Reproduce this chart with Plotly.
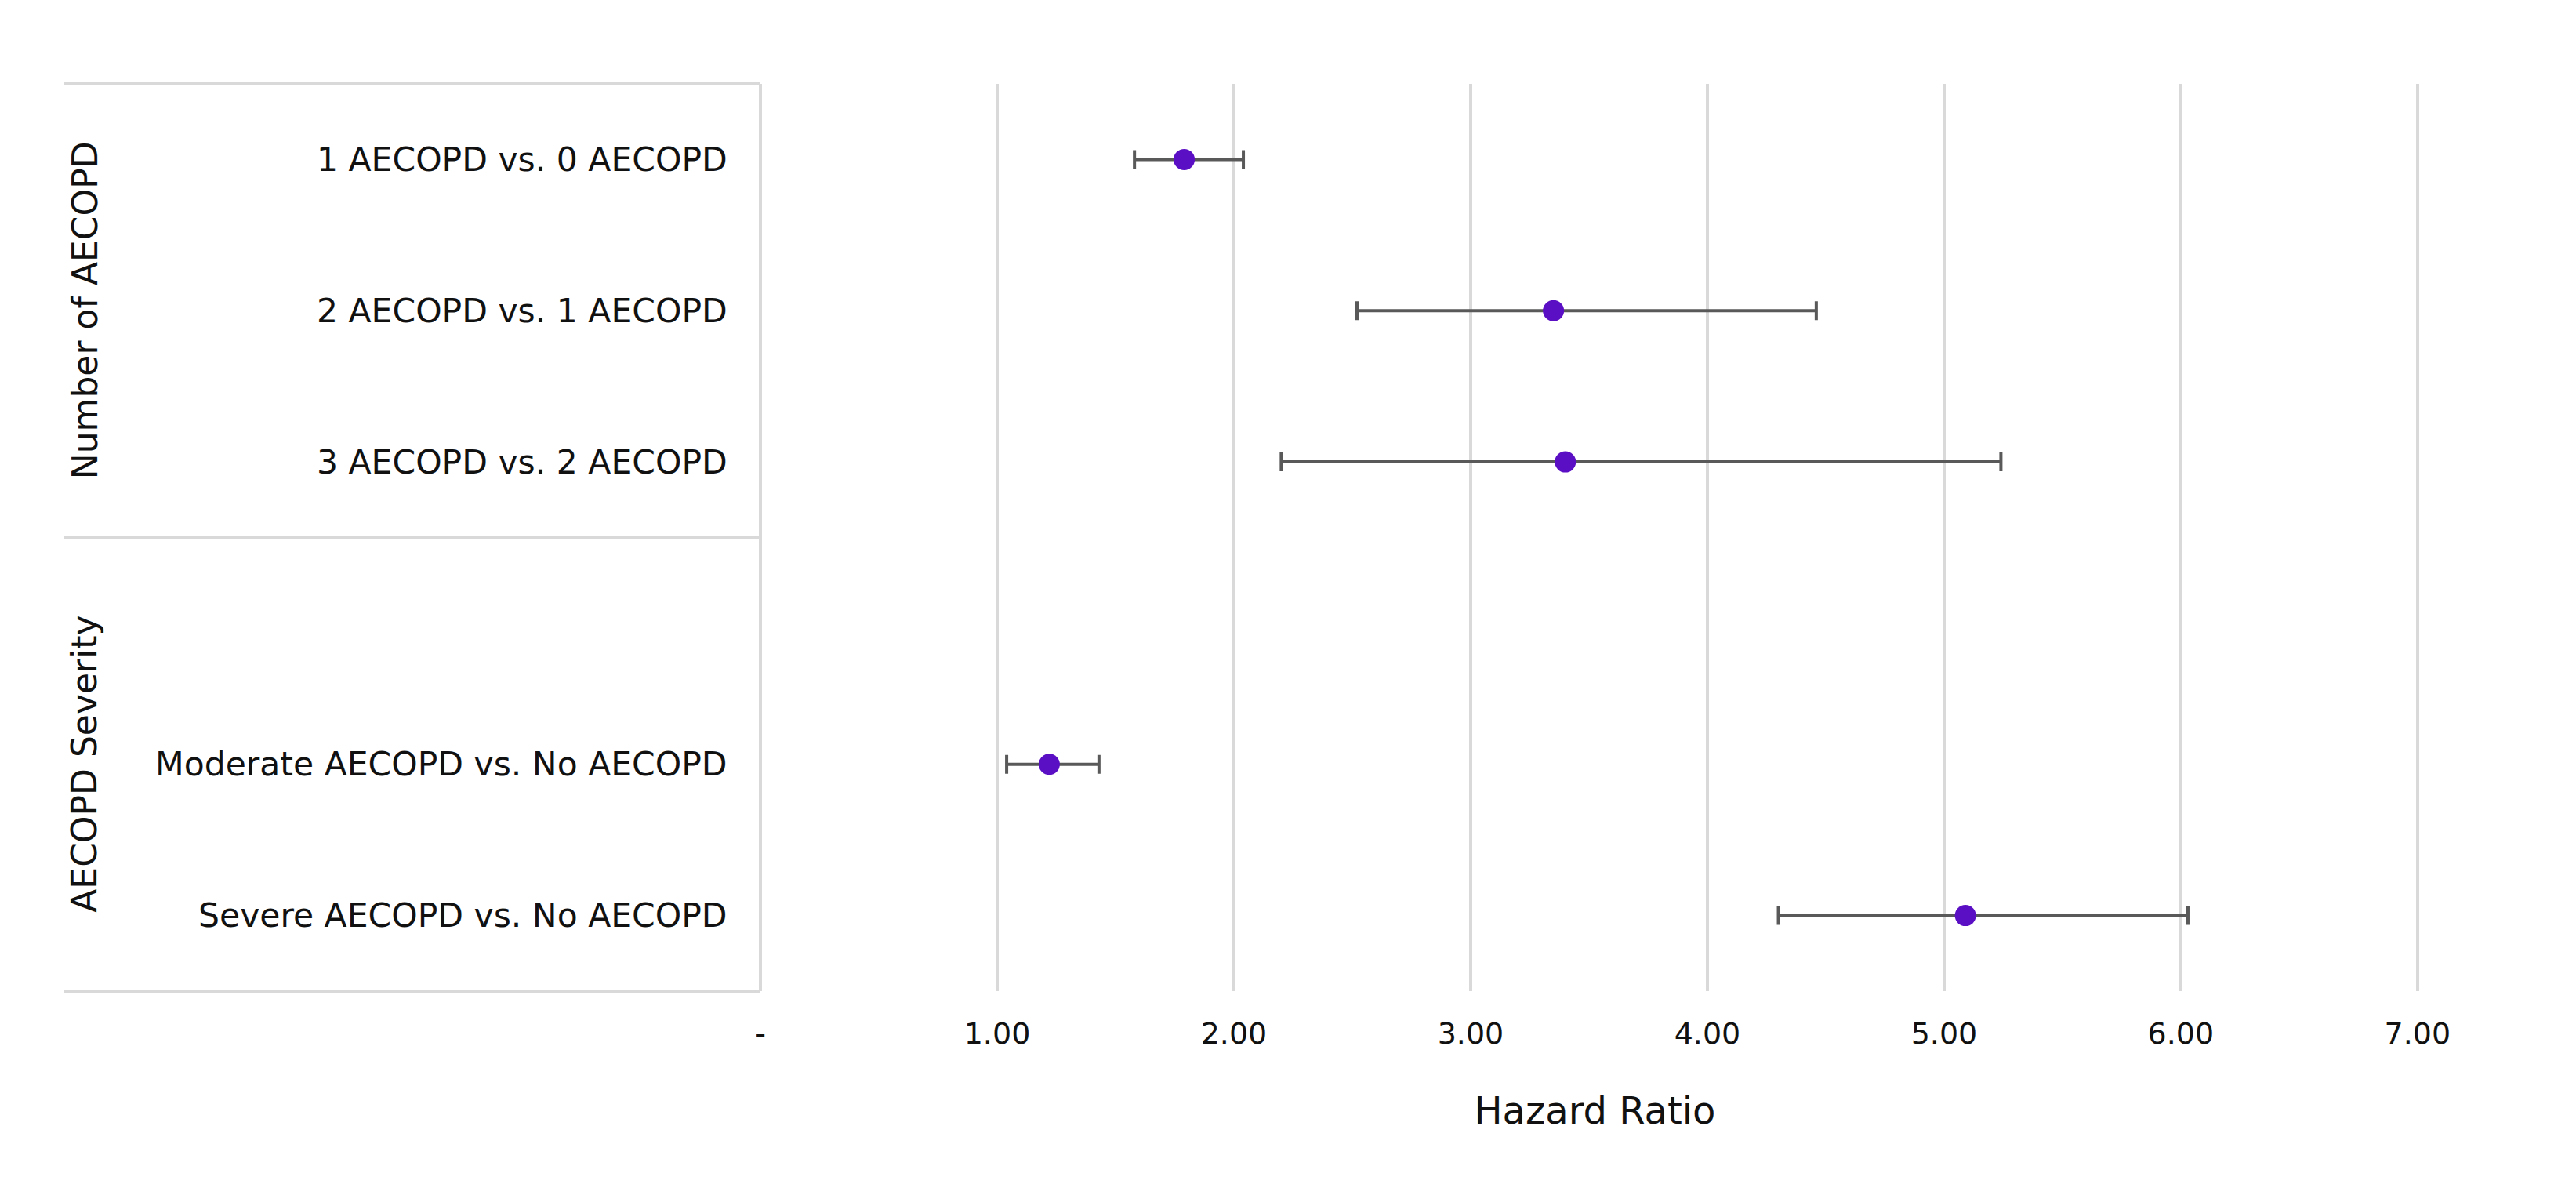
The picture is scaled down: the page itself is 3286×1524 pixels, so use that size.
import plotly.graph_objects as go

# ---- data ----
categories = ["1 AECOPD vs. 0 AECOPD", "2 AECOPD vs. 1 AECOPD", "3 AECOPD vs. 2 AECOPD",
              "Moderate AECOPD vs. No AECOPD", "Severe AECOPD vs. No AECOPD"]
row_pos = [0, 1, 2, 4, 5]
hazard_ratio = [1.79, 3.35, 3.40, 1.22, 5.09]
ci_low = [1.58, 2.52, 2.20, 1.04, 4.30]
ci_high = [2.04, 4.46, 5.24, 1.43, 6.03]
groups = ["Number of AECOPD", "AECOPD Severity"]
group_center = [1, 4]
x_ticks = [0, 1, 2, 3, 4, 5, 6, 7]
x_tick_labels = ["-", "1.00", "2.00", "3.00", "4.00", "5.00", "6.00", "7.00"]

W, H = 3286, 1524
ML, MT, MB = 962, 99, 268
X_MAX = 7.05
PW = round(302 * X_MAX)
MR = W - ML - PW

FONT = "DejaVu Sans"
TXT = "#111111"
GRID = "#d9d9d9"

fig = go.Figure()
fig.add_trace(go.Scatter(
    x=hazard_ratio, y=row_pos, mode="markers",
    marker=dict(color="#5b0fc4", size=27, line=dict(width=0)),
    error_x=dict(type="data", symmetric=False,
                 array=[h - m for h, m in zip(ci_high, hazard_ratio)],
                 arrayminus=[m - l for m, l in zip(hazard_ratio, ci_low)],
                 color="#595959", thickness=4, width=12),
    showlegend=False,
))

annotations = []
for name, y in zip(categories, row_pos):
    annotations.append(dict(text=name, x=-40 / PW, xref="paper", y=y, yref="y",
                            xanchor="right", yanchor="middle", showarrow=False,
                            font=dict(family=FONT, size=42.5, color=TXT)))
for g, yc in zip(groups, group_center):
    annotations.append(dict(text=g, x=(100 - ML) / PW, xref="paper", y=yc, yref="y",
                            xanchor="center", yanchor="middle", textangle=-90, showarrow=False,
                            font=dict(family=FONT, size=44, color=TXT)))

# table border lines (left panel), in paper coordinates: top, group divider, bottom
x_left = (74 - ML) / PW
shapes = []
for yp in [1.0, 0.5, 0.0]:
    shapes.append(dict(type="line", xref="paper", yref="paper", x0=x_left, x1=0, y0=yp, y1=yp,
                       line=dict(color=GRID, width=4), layer="below"))
shapes.append(dict(type="line", xref="paper", yref="paper", x0=0, x1=0, y0=0, y1=1,
                   line=dict(color=GRID, width=4), layer="below"))

fig.update_layout(
    width=W, height=H,
    margin=dict(l=ML, r=MR, t=MT, b=MB, pad=0, autoexpand=False),
    paper_bgcolor="white", plot_bgcolor="white",
    font=dict(family=FONT, size=40, color=TXT),
    annotations=annotations, shapes=shapes,
    xaxis=dict(range=[0, X_MAX], tickvals=x_ticks, ticktext=x_tick_labels,
               showgrid=True, gridcolor=GRID, gridwidth=4, zeroline=False,
               showline=False, ticks="", ticklabelstandoff=28,
               tickfont=dict(family=FONT, size=38, color=TXT),
               title=dict(text="Hazard Ratio", standoff=60,
                          font=dict(family=FONT, size=48, color=TXT))),
    yaxis=dict(range=[5.5, -0.5], showticklabels=False, showgrid=False,
               zeroline=False, showline=False, ticks=""),
)

fig.write_html("out.html")
